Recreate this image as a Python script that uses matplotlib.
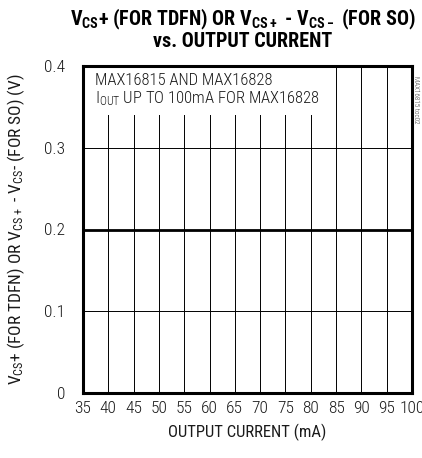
import numpy as np
import matplotlib.pyplot as plt

# data
current = [35, 40, 45, 50, 55, 60, 65, 70, 75, 80, 85, 90, 95, 100]
vcs = [0.2, 0.2, 0.2, 0.2, 0.2, 0.2, 0.2, 0.2, 0.2, 0.2, 0.2, 0.2, 0.2, 0.2]
xticks = [35, 40, 45, 50, 55, 60, 65, 70, 75, 80, 85, 90, 95, 100]
yticks = [0, 0.1, 0.2, 0.3, 0.4]
ylabels = ['0', '0.1', '0.2', '0.3', '0.4']

plt.rcParams['font.family'] = ['Roboto Condensed', 'DejaVu Sans']
plt.rcParams['font.weight'] = 'light'
plt.rcParams['mathtext.default'] = 'regular'

fig = plt.figure(figsize=(4.22, 4.58), dpi=100)
ax = fig.add_axes([83/422, 1 - 393/458, 329/422, 327/458])

ax.plot(current, vcs, color='black', lw=2.0, zorder=3)

ax.set_xlim(35, 100)
ax.set_ylim(0, 0.4)
ax.set_xticks(xticks)
ax.set_yticks(yticks)
ax.set_yticklabels(ylabels)
ax.tick_params(length=0, labelsize=12.5, colors='#1a1a1a')
ax.tick_params(axis='y', pad=13)
ax.tick_params(axis='x', pad=6)
ax.grid(True, color='black', lw=0.7)
for s in ax.spines.values():
    s.set_linewidth(2.2)

ax.set_xlabel('OUTPUT CURRENT (mA)', fontsize=12, color='#1a1a1a', labelpad=5)
ax.set_ylabel('V$_{CS}$+ (FOR TDFN) OR V$_{CS+}$ - V$_{CS}$- (FOR SO) (V)',
              fontsize=12.5, color='#1a1a1a', labelpad=12)

fig.text(243/422, 1 - 29/458,
         'V$_{CS}$+ (FOR TDFN) OR V$_{CS+}$ - V$_{CS-}$ (FOR SO)\nvs. OUTPUT CURRENT',
         ha='center', va='center', fontsize=14.5, fontweight='black', linespacing=1.0)

# note box sits over the grid but under the frame
ax.text(0.035, 0.98, 'MAX16815 AND MAX16828\nI$_{OUT}$ UP TO 100mA FOR MAX16828',
        transform=ax.transAxes, ha='left', va='top', fontsize=12, color='#1a1a1a',
        linespacing=1.15, zorder=2.2,
        bbox=dict(facecolor='white', edgecolor='none', pad=5))

fig.text(416/422, 1 - 100/458, 'MAX16815 toc02', rotation=270, ha='center', va='center',
         fontsize=5, color='#333333')

fig.savefig('out.png', dpi=100)
